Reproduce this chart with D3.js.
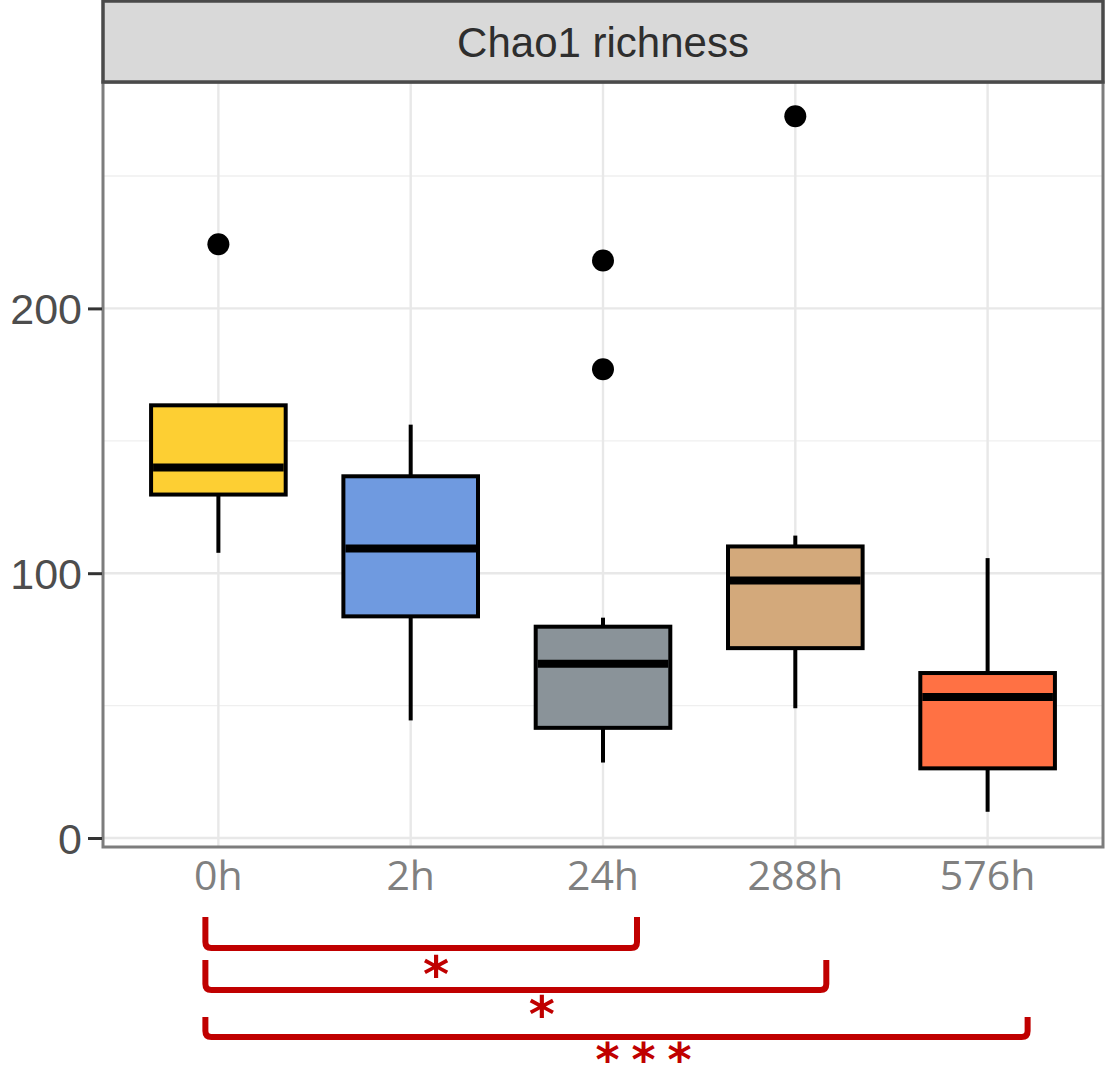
<!DOCTYPE html>
<html>
<head>
<meta charset="utf-8">
<script src="https://cdn.jsdelivr.net/npm/d3@7"></script>
<style>
  body { margin: 0; background: #fff; }
</style>
</head>
<body>
<svg id="chart"></svg>
<script>
//groups along the x axis
let groups = ['0h', '2h', '24h', '288h', '576h']

//box statistics
let lowWhisker = [107.7, 44.4, 28.5, 49.0, 9.9]
let q1 = [129.7, 83.7, 41.6, 71.7, 26.3]
let medians = [139.9, 109.3, 65.8, 97.2, 53.2]
let q3 = [163.4, 136.6, 79.8, 110.1, 62.3]
let highWhisker = [163.4, 156.1, 83.2, 114.2, 105.7]

//outlier points
let outlierGroup = ['0h', '24h', '24h', '288h']
let outlierValue = [224.2, 218.1, 177.0, 272.6]

let fills = ['#fdcf33', '#6f9ae0', '#8a9399', '#d3a97b', '#ff7144']

let yTicks = [0, 100, 200]
let yMinor = [50, 150, 250]

//significance brackets
let pairFrom = ['0h', '0h', '0h']
let pairTo = ['24h', '288h', '576h']
let pairLabel = ['*', '*', '***']

let outerWidth = 1106
let outerHeight = 1072
let panel = { left: 103, right: 1103, top: 82, bottom: 847 }
let strip = { top: 1, bottom: 82 }

let svg = d3.select('svg#chart')
  .attr('width', outerWidth)
  .attr('height', outerHeight)

let xScale = d3.scaleBand()
  .domain(groups)
  .range([panel.left, panel.right])
  .paddingInner(0)
  .paddingOuter(0.1)

let yScale = d3.scaleLinear()
  .domain([-3.4, 285.5])
  .range([panel.bottom, panel.top])

let cx = g => xScale(g) + xScale.bandwidth() / 2
let boxW = xScale.bandwidth() * 0.7

let boxes = groups.map((g, i) => ({
  group: g, lo: lowWhisker[i], q1: q1[i], med: medians[i], q3: q3[i], hi: highWhisker[i], fill: fills[i]
}))

//grid lines
let grid = svg.append('g')
grid.selectAll('line.minor')
  .data(yMinor)
  .enter()
  .append('line')
  .attr('x1', panel.left).attr('x2', panel.right)
  .attr('y1', d => yScale(d)).attr('y2', d => yScale(d))
  .attr('stroke', '#efefef').attr('stroke-width', 1.3)
grid.selectAll('line.major')
  .data(yTicks)
  .enter()
  .append('line')
  .attr('x1', panel.left).attr('x2', panel.right)
  .attr('y1', d => yScale(d)).attr('y2', d => yScale(d))
  .attr('stroke', '#e8e8e8').attr('stroke-width', 2.4)
grid.selectAll('line.xgrid')
  .data(groups)
  .enter()
  .append('line')
  .attr('x1', d => cx(d)).attr('x2', d => cx(d))
  .attr('y1', panel.top).attr('y2', panel.bottom)
  .attr('stroke', '#e8e8e8').attr('stroke-width', 2.4)

//whiskers
let marks = svg.append('g')
marks.selectAll('line.upper')
  .data(boxes)
  .enter()
  .append('line')
  .attr('x1', d => cx(d.group)).attr('x2', d => cx(d.group))
  .attr('y1', d => yScale(d.q3)).attr('y2', d => yScale(d.hi))
  .attr('stroke', '#000').attr('stroke-width', 4)
marks.selectAll('line.lower')
  .data(boxes)
  .enter()
  .append('line')
  .attr('x1', d => cx(d.group)).attr('x2', d => cx(d.group))
  .attr('y1', d => yScale(d.q1)).attr('y2', d => yScale(d.lo))
  .attr('stroke', '#000').attr('stroke-width', 4)

//boxes
marks.selectAll('rect.box')
  .data(boxes)
  .enter()
  .append('rect')
  .attr('x', d => cx(d.group) - boxW / 2)
  .attr('width', boxW)
  .attr('y', d => yScale(d.q3))
  .attr('height', d => yScale(d.q1) - yScale(d.q3))
  .attr('fill', d => d.fill)
  .attr('stroke', '#000')
  .attr('stroke-width', 4)

//medians
marks.selectAll('line.median')
  .data(boxes)
  .enter()
  .append('line')
  .attr('x1', d => cx(d.group) - boxW / 2 + 2).attr('x2', d => cx(d.group) + boxW / 2 - 2)
  .attr('y1', d => yScale(d.med)).attr('y2', d => yScale(d.med))
  .attr('stroke', '#000').attr('stroke-width', 8)

//outliers
marks.selectAll('circle')
  .data(outlierGroup.map((g, i) => ({ group: g, v: outlierValue[i] })))
  .enter()
  .append('circle')
  .attr('cx', d => cx(d.group))
  .attr('cy', d => yScale(d.v))
  .attr('r', 11)
  .attr('fill', '#000')

//panel border
svg.append('rect')
  .attr('x', panel.left).attr('y', panel.top)
  .attr('width', panel.right - panel.left)
  .attr('height', panel.bottom - panel.top)
  .attr('fill', 'none')
  .attr('stroke', '#7d7d7d')
  .attr('stroke-width', 3)

//facet strip
svg.append('rect')
  .attr('x', panel.left).attr('y', strip.top)
  .attr('width', panel.right - panel.left)
  .attr('height', strip.bottom - strip.top)
  .attr('fill', '#d9d9d9')
  .attr('stroke', '#4a4a4a')
  .attr('stroke-width', 3.5)

svg.append('text')
  .attr('x', (panel.left + panel.right) / 2)
  .attr('y', 57)
  .attr('text-anchor', 'middle')
  .style('font-family', '"Liberation Sans", Arial, sans-serif')
  .style('font-size', '42px')
  .attr('fill', '#2e2e2e')
  .text('Chao1 richness')

//y axis
let yAxis = d3.axisLeft(yScale).tickValues(yTicks).tickSize(14).tickPadding(6)
let yg = svg.append('g')
  .attr('transform', 'translate(' + (panel.left - 1) + ',0)')
  .call(yAxis)
yg.select('.domain').remove()
yg.selectAll('.tick line').attr('stroke', '#333').attr('stroke-width', 3)
yg.selectAll('.tick text')
  .attr('fill', '#4d4d4d')
  .attr('dy', '0.36em')
  .style('font-family', '"Liberation Sans", Arial, sans-serif')
  .style('font-size', '43px')

//x labels
svg.selectAll('text.xlab')
  .data(groups)
  .enter()
  .append('text')
  .attr('class', 'xlab')
  .attr('x', d => cx(d))
  .attr('y', 890)
  .attr('text-anchor', 'middle')
  .style('font-family', '"Open Sans", sans-serif')
  .style('font-size', '41px')
  .attr('fill', '#808080')
  .text(d => d)

//significance brackets
let bracketTop = [917, 960, 1017]
let bracketBottom = [948, 990, 1037]
let labelY = [992, 1032, 1076]
let labelShift = [15, 26, 33]
let endShift = [34, 31, 40]
let labelSize = [50, 50, 46]
let red = '#c00000'

pairFrom.forEach((a, i) => {
  let x1 = cx(a) - 13
  let x2 = cx(pairTo[i]) + endShift[i]
  let r = 6
  let p = d3.path()
  p.moveTo(x1, bracketTop[i])
  p.lineTo(x1, bracketBottom[i] - r)
  p.quadraticCurveTo(x1, bracketBottom[i], x1 + r, bracketBottom[i])
  p.lineTo(x2 - r, bracketBottom[i])
  p.quadraticCurveTo(x2, bracketBottom[i], x2, bracketBottom[i] - r)
  p.lineTo(x2, bracketTop[i])
  svg.append('path')
    .attr('d', p.toString())
    .attr('fill', 'none')
    .attr('stroke', red)
    .attr('stroke-width', 6)

  svg.append('text')
    .attr('x', (x1 + x2) / 2 + labelShift[i])
    .attr('y', labelY[i])
    .attr('text-anchor', 'middle')
    .style('font-family', '"DejaVu Sans", sans-serif')
    .style('font-size', labelSize[i] + 'px')
    .style('font-weight', 'bold')
    .style('letter-spacing', pairLabel[i].length > 1 ? '12px' : '0px')
    .attr('fill', red)
    .text(pairLabel[i])
})
</script>
</body>
</html>
